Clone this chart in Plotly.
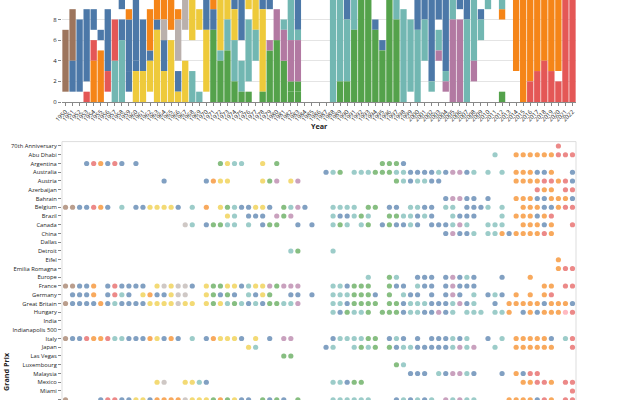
import plotly.graph_objects as go

# ---------------- data ----------------
YEARS = list(range(1950, 2023))

TEAM_NAMES = {"A": "Alfa Romeo", "F": "Ferrari", "M": "Maserati", "D": "Mercedes",
              "V": "Vanwall", "C": "Cooper", "L": "Lotus", "O": "BRM", "H": "Brabham",
              "K": "McLaren", "T": "Tyrrell", "W": "Williams", "R": "Renault",
              "X": "Red Bull", "P": "Alpine", "Z": "Other"}
TEAM_COLORS = {"A": "#9d755d", "F": "#4c78a8", "M": "#e45756", "D": "#f58518",
               "V": "#72b7b2", "C": "#4c78a8", "L": "#eeca3b", "O": "#f58518",
               "H": "#bab0ac", "K": "#72b7b2", "T": "#54a24b", "W": "#54a24b",
               "R": "#b279a2", "X": "#e45756", "P": "#ff9da6"}

# wins per season, stacked bottom-up (team code + count); Z = unmapped team
WINS_BY_YEAR = [
    "Z1 A6", "Z1 F3 A5", "Z1 F7", "M1 Z1 F7", "D4 M2 Z1 F2", "D5 Z1 F1", "Z1 M2 F6",
    "V4 M4 Z1", "V6 F2 Z1 C2", "Z1 F2 C5 O1", "L3 F1 C6", "L3 F5", "Z1 L3 C1 O4",
    "L7 F1 O2", "L3 F3 H2 O2", "L6 Z1 O3", "L1 F2 Z1 H4 O1", "L4 Z3 H4", "K3 Z3 L5 F1",
    "K1 Z6 L2 Z2", "Z1 L6 F4 Z1 O1", "T7 F2 O2", "T4 K1 L5 F1 O1", "T5 K3 L7",
    "T2 K4 L3 F3 Z3", "T1 K3 Z2 F6 Z2", "T1 Z1 K6 Z1 L1 F6", "Z4 K3 L5 Z1 F4",
    "T1 L8 F5 Z2", "W5 R1 Z3 F6", "W6 R3 Z5", "W4 R3 K1 Z2 F2 Z3",
    "W1 T1 R4 K4 L1 F3 Z2", "W1 T1 R4 K1 F4 Z4", "Z16", "Z16", "Z16", "Z16",
    "K15 F1", "W2 K10 F3 Z1", "W2 K6 F6 Z2", "W7 K8 Z1", "W10 K5 Z1", "W10 K5 Z1",
    "W7 F1 Z8", "W5 F1 Z11", "W12 F3 Z1", "W8 K3 F5 Z1", "K9 Z1 F6", "Z1 K7 Z2 F6",
    "K7 F10", "Z4 K4 F9", "Z1 K1 F15", "Z4 R1 K2 Z1 F8", "Z1 R1 K1 F15", "R8 K10 F1",
    "R8 Z1 F9", "K8 F9", "Z2 R2 K6 F8", "Z6 K2 F1 Z8", "Z9 K5 F5", "Z12 K6 F1",
    "W1 Z7 D1 K7 Z1 F3", "Z13 D3 Z1 F2", "Z3 D16", "D16 F3", "X2 D19", "X3 D12 F5",
    "X4 D11 F6", "X3 D15 F3", "X2 Z1 D13 Z1", "X11 D9 Z2", "X17 D1 F4",
]

GRAND_PRIX = ["70th Anniversary", "Abu Dhabi", "Argentina", "Australia", "Austria",
              "Azerbaijan", "Bahrain", "Belgium", "Brazil", "Canada", "China", "Dallas",
              "Detroit", "Eifel", "Emilia Romagna", "Europe", "France", "Germany",
              "Great Britain", "Hungary", "India", "Indianapolis 500", "Italy", "Japan",
              "Las Vegas", "Luxembourg", "Malaysia", "Mexico", "Miami", "Monaco"]

# winners per Grand Prix (year + team code); unmapped teams are not drawn
WINNERS = [
    "2020X",
    "2011K 2014D 2015D 2016D 2017D 2018D 2019D 2020X 2021X 2022X",
    "1953F 1954M 1955D 1956F 1957M 1958C 1960C 1972T 1973L 1974K 1975K 1978L 1980W "
    "1995W 1996W 1997W 1998F",
    "1987F 1988K 1989W 1991K 1992K 1993K 1994W 1995W 1996W 1997K 1998K 1999F 2000F "
    "2001F 2002F 2003K 2004F 2005R 2006R 2007F 2008K 2010K 2012K 2014D 2015D 2016D "
    "2017F 2018F 2019D 2022F",
    "1964F 1970F 1971O 1972L 1973L 1978L 1979W 1980R 1982L 1983R 1997W 1998K 1999F "
    "2000K 2001K 2002F 2003F 2014D 2015D 2016D 2017D 2018X 2019X 2020D 2021X 2022F",
    "2017X 2018D 2019D 2021X 2022X",
    "2004F 2005R 2006R 2007F 2008F 2010F 2014D 2015D 2016D 2017F 2018F 2019D 2020D "
    "2021D 2022F",
    "1950A 1951A 1952F 1953F 1954M 1955D 1956F 1958V 1960C 1961F 1962L 1963L 1964L "
    "1965L 1966F 1968K 1970O 1972L 1973T 1974K 1975F 1976F 1977L 1978L 1979F 1981W "
    "1982K 1983R 1984F 1988K 1989K 1990K 1991K 1993W 1994W 1996F 1997F 1999K 2000K "
    "2001F 2002F 2004K 2005K 2007F 2008F 2009F 2010K 2012K 2015D 2016D 2017D 2018F "
    "2019F 2020D 2021X 2022X",
    "1973L 1974K 1976F 1977F 1978F 1980R 1981W 1982R 1988K 1989F 1990F 1991K 1992W "
    "1993K 1996W 1997W 1998K 1999K 2000F 2001K 2002F 2005K 2006F 2007F 2008F 2012K "
    "2014D 2015D 2016D 2017F 2018D 2019X",
    "1967H 1968K 1970F 1971T 1972T 1973K 1974K 1976K 1978F 1979W 1980W 1983F 1985F "
    "1988K 1989W 1990K 1992K 1993W 1995F 1996W 1997F 1998F 1999K 2000F 2002F 2003F "
    "2004F 2005K 2006R 2007K 2010K 2011K 2012K 2015D 2016D 2017D 2018F 2019D 2022X",
    "2004F 2005R 2006F 2007F 2008K 2010K 2011K 2012D 2013F 2014D 2015D 2016D 2017D "
    "2018X 2019D",
    "",
    "1982K 1983T 1988K",
    "2020D",
    "2020D 2021X 2022X",
    "1993K 1996W 1997K 2000F 2001F 2002F 2004F 2005R 2006F 2007K 2008F 2012F 2016D",
    "1950A 1951A 1952F 1953F 1954D 1956F 1957M 1958F 1959F 1960C 1961F 1963L 1964H "
    "1965L 1966H 1967H 1968F 1970L 1971T 1972T 1973L 1974L 1975F 1976K 1977L 1978L "
    "1979R 1980W 1981R 1982R 1983R 1988K 1989K 1990F 1991W 1992W 1993W 1996W 1997F "
    "1998F 2000K 2001F 2002F 2004F 2005R 2006F 2007F 2008F 2018D 2019D 2021X 2022X",
    "1951F 1952F 1953F 1954D 1956F 1957M 1958V 1959F 1961L 1962O 1963F 1964F 1965L "
    "1966H 1967H 1970L 1971T 1972F 1973T 1974F 1976K 1977F 1978L 1979W 1982F 1983F "
    "1985F 1988K 1989K 1990K 1991W 1992W 1993W 1994F 1996W 1998K 1999F 2000F 2002F "
    "2004F 2005R 2006F 2008K 2010F 2011K 2012F 2014D 2016D 2018D 2019X",
    "1950A 1951F 1952F 1953F 1954F 1955D 1956F 1957V 1958F 1959C 1960C 1961F 1962L "
    "1963L 1964L 1965L 1966H 1967L 1968L 1970L 1971T 1972L 1973K 1974T 1975K 1976F "
    "1977K 1978F 1979W 1980W 1981K 1982K 1983R 1988K 1989K 1990F 1991W 1992W 1993W "
    "1994W 1996W 1997W 1998F 1999K 2000K 2001K 2002F 2003F 2004F 2005K 2006R 2007F "
    "2008K 2011F 2013D 2014D 2015D 2016D 2017D 2018F 2019D 2020D 2021D 2022F",
    "1988K 1989F 1990W 1991K 1992K 1993W 1995W 1996W 1997W 1998F 1999K 2000K 2001F "
    "2002F 2003R 2004F 2005K 2007K 2008K 2009K 2011K 2012K 2013D 2015F 2016D 2017F "
    "2018D 2019D 2020D 2021P 2022X",
    "",
    "",
    "1950A 1951F 1952F 1953M 1954D 1955D 1956M 1957V 1958V 1959C 1960F 1961F 1962O "
    "1963L 1964F 1965O 1966F 1968K 1970F 1971O 1972L 1973L 1974L 1975F 1977L 1979F "
    "1981R 1982R 1988F 1989K 1990K 1991K 1992K 1993W 1994W 1996F 1997K 1998F 2000F "
    "2002F 2003F 2004F 2005K 2006F 2007K 2010F 2012K 2014D 2015D 2016D 2017D 2018D "
    "2019F 2021K 2022X",
    "1976L 1977K 1987F 1988K 1991K 1992W 1993K 1994W 1996W 1997F 1998K 1999K 2000F "
    "2001F 2002F 2003F 2004F 2005K 2006R 2007K 2008R 2011K 2014D 2015D 2016D 2017D "
    "2018D 2019D 2022X",
    "1981W 1982T",
    "1997W 1998K",
    "1999F 2000F 2001F 2003K 2004F 2005R 2006R 2007K 2008F 2012F 2014D 2015F 2016X 2017X",
    "1963L 1964H 1967L 1968L 1969K 1970F 1988K 1989K 1990F 1991W 1992W 2015D 2016D "
    "2017X 2018X 2019D 2021X 2022X",
    "2022X",
    "1950A 1955F 1956M 1957M 1958C 1959C 1960L 1961L 1962C 1963O 1964O 1965O 1966O "
    "1967H 1968L 1969L 1970L 1971T 1972O 1973T 1974L 1975F 1976F 1978T 1979F 1980W "
    "1981F 1983W 1988K 1989K 1990K 1991K 1992K 1993K 1997F 1998K 1999F 2000K 2001F "
    "2002K 2004R 2005K 2006R 2007K 2008K 2013D 2014D 2015D 2016D 2017F 2018X 2019D "
    "2021X 2022X",
]

# ---------------- layout constants (pixels) ----------------
W, H = 640, 400
PX_L, PX_R = 62, 576
TOP_BOTTOM = 102
TOP_MAX = 9.89
BOT_TOP = 141.6
ROW_STEP = 8.75
FONT = "Open Sans"
LABEL = 5.8
XLABEL = 6.0
TITLE = 7.2


def px_x(x):
    return x / W


def px_y(y):
    return 1 - y / H


fig = go.Figure()

# ---------------- stacked bars ----------------
bar_data = {}
for year, stack in zip(YEARS, WINS_BY_YEAR):
    base = 0
    for seg in stack.split():
        code, n = seg[0], int(seg[1:])
        if code != "Z":
            d = bar_data.setdefault(code, {"x": [], "y": [], "b": []})
            d["x"].append(year)
            d["y"].append(n)
            d["b"].append(base)
        base += n

for code, d in bar_data.items():
    fig.add_trace(go.Bar(x=d["x"], y=d["y"], base=d["b"], width=0.9,
                         marker=dict(color=TEAM_COLORS[code], line=dict(width=0)),
                         name=TEAM_NAMES[code], showlegend=False,
                         xaxis="x", yaxis="y"))

# ---------------- dot plot ----------------
dot_data = {}
for row, s in enumerate(WINNERS):
    for tok in s.split():
        year, code = int(tok[:4]), tok[4:]
        d = dot_data.setdefault(code, {"x": [], "y": []})
        d["x"].append(year)
        d["y"].append(row)

for code, d in dot_data.items():
    fig.add_trace(go.Scatter(x=d["x"], y=d["y"], mode="markers",
                             marker=dict(color=TEAM_COLORS[code], size=5.2, opacity=0.7,
                                         line=dict(width=0)),
                             name=TEAM_NAMES[code], showlegend=False,
                             xaxis="x2", yaxis="y2"))

xdom = [px_x(PX_L), px_x(PX_R)]
xr = [YEARS[0] - 0.5, YEARS[-1] + 0.5]
bot_rows_max = (H - BOT_TOP) / ROW_STEP - 0.5

fig.update_layout(
    width=W, height=H, autosize=False,
    margin=dict(l=0, r=0, t=0, b=0),
    paper_bgcolor="white", plot_bgcolor="rgba(0,0,0,0)",
    barmode="overlay", showlegend=False,
    font=dict(family=FONT, size=LABEL, color="#222"),
    xaxis=dict(domain=xdom, range=xr, anchor="y", tickmode="array",
               tickvals=YEARS, ticktext=[str(y) for y in YEARS], tickangle=-45,
               tickfont=dict(size=XLABEL, color="#222"), ticks="outside", ticklen=3,
               tickcolor="#888", showline=True, linecolor="#888", linewidth=1,
               showgrid=False, zeroline=False, automargin=False),
    yaxis=dict(domain=[px_y(TOP_BOTTOM), 1], range=[0, TOP_MAX], anchor="x",
               tickmode="array", tickvals=[0, 2, 4, 6, 8],
               tickfont=dict(size=XLABEL, color="#222"), ticks="outside", ticklen=3,
               tickcolor="#888", showgrid=True, gridcolor="#e4e4e4", gridwidth=1,
               zeroline=False, showline=False, automargin=False),
    xaxis2=dict(domain=xdom, range=xr, anchor="y2", showticklabels=False,
                showgrid=False, zeroline=False, showline=False, ticks="",
                automargin=False),
    yaxis2=dict(domain=[0, px_y(BOT_TOP)], range=[bot_rows_max, -0.5], anchor="x2",
                tickmode="array", tickvals=list(range(len(GRAND_PRIX))),
                ticktext=GRAND_PRIX, tickfont=dict(size=LABEL, color="#222"),
                ticks="outside", ticklen=3, tickcolor="#888", showgrid=False,
                zeroline=False, showline=False, automargin=False),
)

# frame of the dot plot
frame = dict(type="line", xref="paper", yref="paper", line=dict(color="#dddddd", width=1))
fig.add_shape(x0=px_x(PX_L), x1=px_x(PX_R), y0=px_y(BOT_TOP), y1=px_y(BOT_TOP), **frame)
fig.add_shape(x0=px_x(PX_L), x1=px_x(PX_L), y0=px_y(BOT_TOP), y1=0, **frame)
fig.add_shape(x0=px_x(PX_R), x1=px_x(PX_R), y0=px_y(BOT_TOP), y1=0, **frame)

# axis titles
fig.add_annotation(text="<b>Year</b>", x=px_x((PX_L + PX_R) / 2), y=px_y(126),
                   xref="paper", yref="paper", showarrow=False,
                   font=dict(size=TITLE, color="#222"), xanchor="center", yanchor="middle")
fig.add_annotation(text="<b>Grand Prix</b>", x=px_x(5.5), y=px_y(371.5),
                   xref="paper", yref="paper", showarrow=False, textangle=-90,
                   font=dict(size=TITLE, color="#222"), xanchor="center", yanchor="middle")

fig.write_html("out.html")
